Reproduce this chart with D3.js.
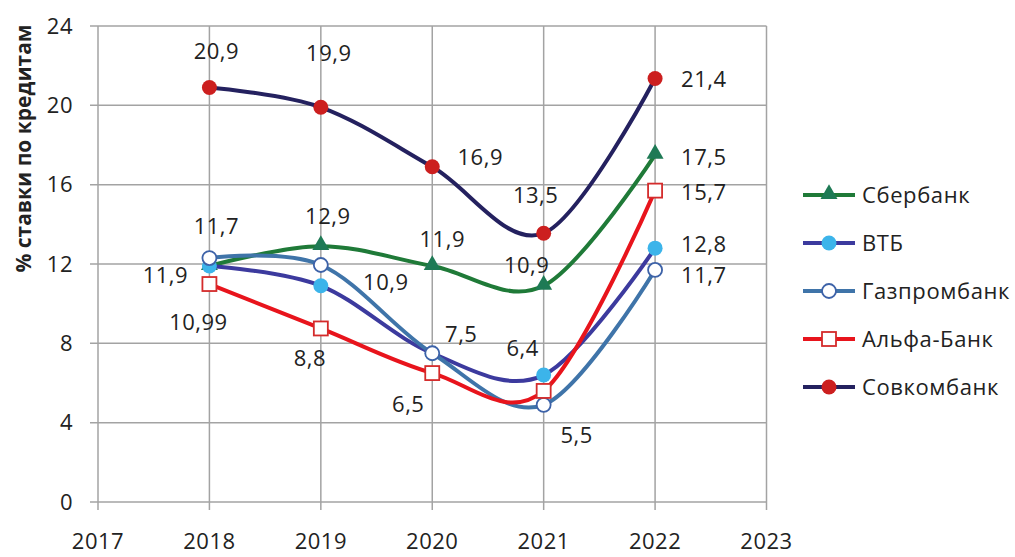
<!DOCTYPE html>
<html><head><meta charset="utf-8">
<script src="https://cdn.jsdelivr.net/npm/d3@7"></script>
<style>
html,body{margin:0;padding:0;background:#fff;}
svg text{font-family:"Open Sans",sans-serif;fill:#222;}
</style></head>
<body><svg id="c" width="1015" height="557"></svg>
<script>
// ---- data ----
const years = [2018, 2019, 2020, 2021, 2022];
const xTicks = [2017, 2018, 2019, 2020, 2021, 2022, 2023];
const yTicks = [0, 4, 8, 12, 16, 20, 24];
const seriesNames = ["Сбербанк", "ВТБ", "Газпромбанк", "Альфа-Банк", "Совкомбанк"];
const sberValues   = [11.9, 12.9, 11.9, 10.9, 17.5];
const vtbValues    = [11.9, 10.9, 7.5, 6.4, 12.8];
const gazpromValues= [12.3, 11.95, 7.5, 4.9, 11.7];
const alfaValues   = [10.99, 8.75, 6.5, 5.6, 15.7];
const sovcomValues = [20.9, 19.9, 16.9, 13.55, 21.35];
const sberLabels   = ["11,9", "12,9", "11,9", "10,9", "17,5"];
const vtbLabels    = [null, "10,9", "7,5", "6,4", "12,8"];
const gazpromLabels= ["11,7", null, null, null, "11,7"];
const alfaLabels   = ["10,99", "8,8", "6,5", "5,5", "15,7"];
const sovcomLabels = ["20,9", "19,9", "16,9", "13,5", "21,4"];
const yTitle = "% ставки по кредитам";

// ---- layout / style ----
const labelOffsets = [
  [[-44, 9], [7, -30], [10, -27], [-17, -21], [26, 2]],
  [null, [65, -4], [29, -19], [-21, -27], [26, -4]],
  [[7, -32], null, null, null, [26, 5]],
  [[-11, 38], [-11, 30], [-24, 31], [33, 44], [26, 2]],
  [[7, -36], [8, -54], [48, -10], [-8, -38], [26, 1]]
];
const styles = [
  {line: "#1f7a38", marker: "triangle", fill: "#1e7a55", stroke: "#1e7a55"},
  {line: "#3c3a9e", marker: "circle", fill: "#3cb4ea", stroke: "#3cb4ea"},
  {line: "#3f74a9", marker: "ocircle", fill: "#fff", stroke: "#3d62a8"},
  {line: "#e8141c", marker: "square", fill: "#fff", stroke: "#d42b2b"},
  {line: "#24215f", marker: "circle", fill: "#cc1f1f", stroke: "#cc1f1f"}
];
const allValues = [sberValues, vtbValues, gazpromValues, alfaValues, sovcomValues];
const allLabels = [sberLabels, vtbLabels, gazpromLabels, alfaLabels, sovcomLabels];

const FS = 22, LS = "0.5px";
const svg = d3.select("#c");
const x = d3.scaleLinear().domain([2017, 2023]).range([98, 766.5]);
const y = d3.scaleLinear().domain([0, 24]).range([502, 26]);
const gridColor = "#a3a3a3";

// grid
const g = svg.append("g");
g.selectAll(".hg").data(yTicks).join("line")
  .attr("x1", x(2017) - 8).attr("x2", x(2023))
  .attr("y1", d => y(d)).attr("y2", d => y(d))
  .attr("stroke", gridColor).attr("stroke-width", 1.5);
g.selectAll(".vg").data(xTicks).join("line")
  .attr("x1", d => x(d)).attr("x2", d => x(d))
  .attr("y1", y(24)).attr("y2", y(0) + 8)
  .attr("stroke", gridColor).attr("stroke-width", 1.5);

// axis labels
svg.append("g").selectAll("text").data(yTicks).join("text")
  .attr("x", x(2017) - 25).attr("y", d => y(d))
  .attr("dy", "0.35em").attr("text-anchor", "end")
  .attr("font-size", FS).attr("letter-spacing", LS).text(d => d);
svg.append("g").selectAll("text").data(xTicks).join("text")
  .attr("x", d => x(d)).attr("y", 549)
  .attr("text-anchor", "middle").attr("font-size", FS).attr("letter-spacing", LS).text(d => d);

svg.append("text")
  .attr("transform", `translate(31,${(20 + 277) / 2}) rotate(-90)`)
  .attr("text-anchor", "middle").attr("font-size", 21).attr("font-weight", "bold")
  .text(yTitle);

// lines
const line = d3.line().x((d, i) => x(years[i])).y(d => y(d)).curve(d3.curveCardinal.tension(0));

function drawMarker(sel, st, cx, cy) {
  if (st.marker === "triangle") {
    sel.append("path").attr("d", d3.symbol(d3.symbolTriangle, 125)())
      .attr("transform", `translate(${cx},${cy - 1})`).attr("fill", st.fill);
  } else if (st.marker === "circle") {
    sel.append("circle").attr("cx", cx).attr("cy", cy).attr("r", 7.5).attr("fill", st.fill);
  } else if (st.marker === "ocircle") {
    sel.append("circle").attr("cx", cx).attr("cy", cy).attr("r", 7)
      .attr("fill", st.fill).attr("stroke", st.stroke).attr("stroke-width", 1.8);
  } else if (st.marker === "square") {
    sel.append("rect").attr("x", cx - 7).attr("y", cy - 7).attr("width", 14).attr("height", 14)
      .attr("fill", st.fill).attr("stroke", st.stroke).attr("stroke-width", 1.8);
  }
}

allValues.forEach((vals, si) => {
  const st = styles[si];
  const sg = svg.append("g");
  sg.append("path").attr("d", line(vals)).attr("fill", "none")
    .attr("stroke", st.line).attr("stroke-width", 4);
  vals.forEach((v, i) => drawMarker(sg, st, x(years[i]), y(v)));
});

// data labels
allValues.forEach((vals, si) => {
  vals.forEach((v, i) => {
    const lab = allLabels[si][i];
    const off = labelOffsets[si][i];
    if (!lab || !off) return;
    const isRight = i === years.length - 1;
    svg.append("text")
      .attr("x", x(years[i]) + off[0]).attr("y", y(v) + off[1])
      .attr("dy", "0.35em").attr("text-anchor", isRight ? "start" : "middle")
      .attr("font-size", FS).attr("letter-spacing", LS).text(lab);
  });
});

// legend
const lg = svg.append("g");
seriesNames.forEach((name, si) => {
  const ly = 195 + si * 48;
  const st = styles[si];
  lg.append("line").attr("x1", 803).attr("x2", 855).attr("y1", ly).attr("y2", ly)
    .attr("stroke", st.line).attr("stroke-width", 4);
  drawMarker(lg, st, 829, ly);
  lg.append("text").attr("x", 862).attr("y", ly).attr("dy", "0.35em")
    .attr("font-size", FS).attr("letter-spacing", "0.6px").text(name);
});
</script></body></html>
